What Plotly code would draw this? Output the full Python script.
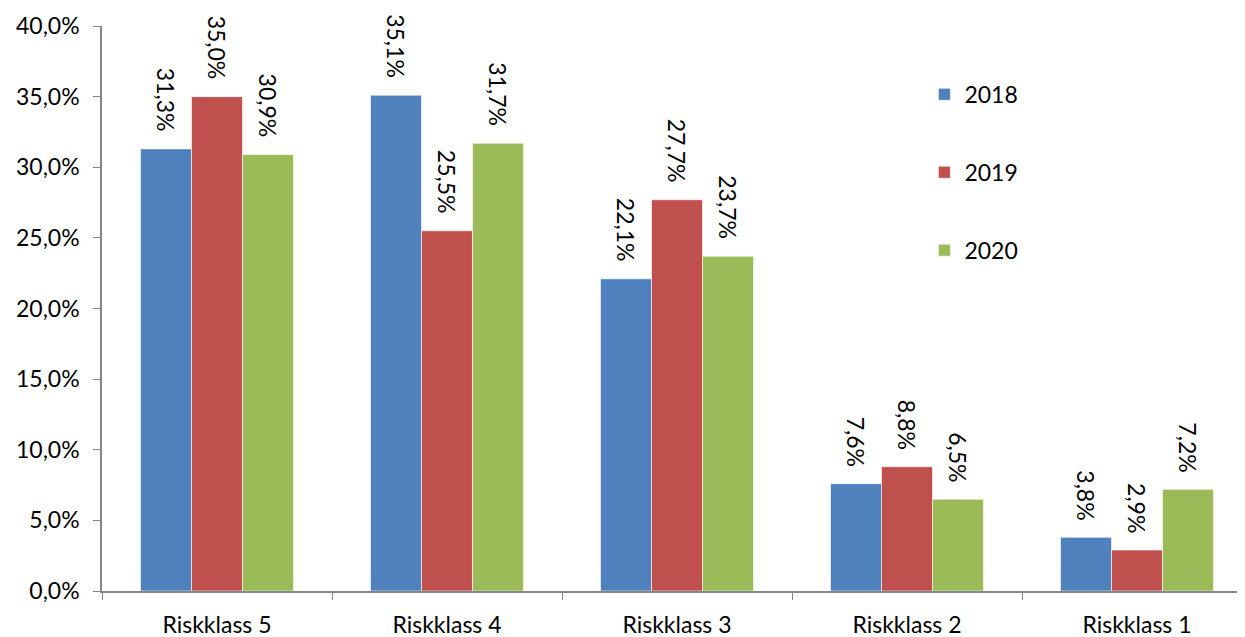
import plotly.graph_objects as go

categories = ["Riskklass 5", "Riskklass 4", "Riskklass 3", "Riskklass 2", "Riskklass 1"]
years = ["2018", "2019", "2020"]
v2018 = [31.3, 35.1, 22.1, 7.6, 3.8]
v2019 = [35.0, 25.5, 27.7, 8.8, 2.9]
v2020 = [30.9, 31.7, 23.7, 6.5, 7.2]
colors = ["#4F81BD", "#C0504D", "#9BBB59"]

FONT = "Lato"
FS = 23
BARGAP = 0.335
series = [v2018, v2019, v2020]
barw = (1 - BARGAP) / len(series)

fig = go.Figure()
for i, (name, vals) in enumerate(zip(years, series)):
    fig.add_trace(go.Bar(
        x=categories, y=vals, name=name, legendgroup=name,
        marker=dict(color=colors[i], line=dict(color="white", width=0.6)),
        hoverinfo="x+y+name",
    ))
    for j, v in enumerate(vals):
        fig.add_annotation(
            x=j + (i - 1) * barw, y=v, xref="x", yref="y",
            text=f"{v:.1f}%".replace(".", ","), textangle=90,
            showarrow=False, xanchor="center", yanchor="bottom", yshift=15,
            font=dict(size=FS, family=FONT, color="black"),
        )

# the page body adds an 8px offset, so the figure is sized to the visible area
fig.update_layout(
    width=1237, height=629,
    margin=dict(l=94, r=0, t=18, b=46),
    barmode="group", bargap=BARGAP, bargroupgap=0,
    separators=",.",
    plot_bgcolor="white", paper_bgcolor="white",
    font=dict(family=FONT, size=FS, color="black"),
    legend=dict(x=0.7195, y=0.917, xanchor="left", yanchor="top",
                font=dict(size=FS, family=FONT), tracegroupgap=45,
                itemwidth=30, bgcolor="rgba(0,0,0,0)"),
    showlegend=True,
)
fig.update_yaxes(range=[0, 40], dtick=5, tickformat=".1f", ticksuffix="%",
                 showgrid=False, showline=True, linecolor="#868686", linewidth=1.5,
                 ticks="outside", ticklen=7, tickcolor="#868686",
                 tickfont=dict(size=FS, family=FONT), zeroline=False,
                 automargin=False, ticklabelstandoff=9)
fig.update_xaxes(range=[-0.5, -0.5 + 1143 / 230], showgrid=False, showline=True,
                 linecolor="#868686", linewidth=1.5,
                 ticks="outside", ticklen=7, tickcolor="#868686", tickson="boundaries",
                 tickfont=dict(size=FS, family=FONT), automargin=False,
                 ticklabelstandoff=13)

fig.write_html("out.html")
